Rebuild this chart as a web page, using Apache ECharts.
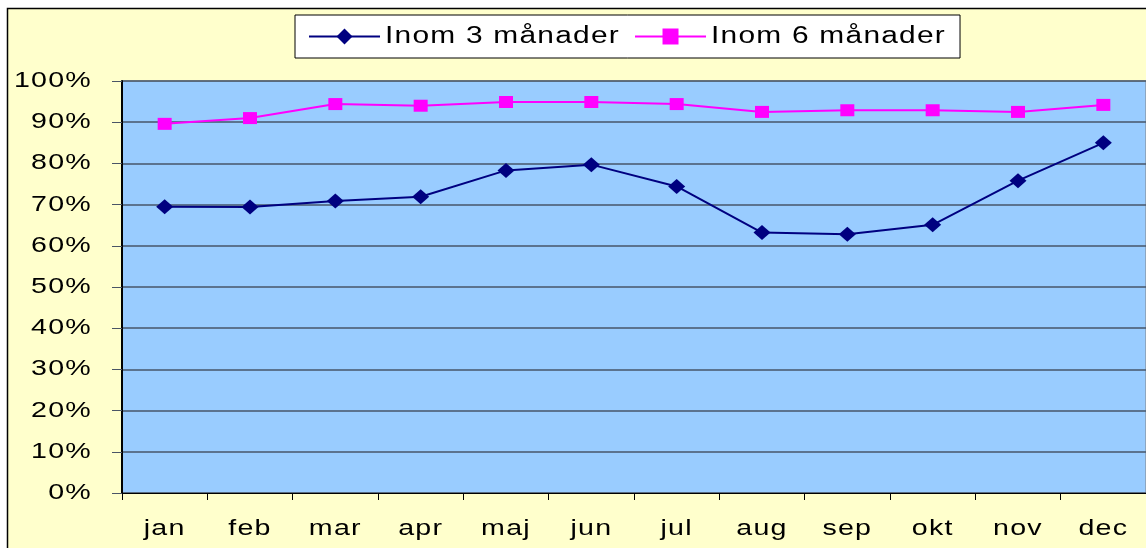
<!DOCTYPE html>
<html>
<head>
<meta charset="utf-8">
<script src="https://cdn.jsdelivr.net/npm/echarts@6/dist/echarts.min.js"></script>
<style>
html,body{margin:0;padding:0;background:#ffffff;}
#chart{width:1146px;height:548px;}
</style>
</head>
<body>
<div id="chart"></div>
<script>
const categories = ['jan','feb','mar','apr','maj','jun','jul','aug','sep','okt','nov','dec'];
const seriesNames = ['Inom 3 månader','Inom 6 månader'];
const within3 = [69.5, 69.4, 70.9, 71.9, 78.3, 79.7, 74.4, 63.2, 62.8, 65.1, 75.8, 85.0];
const within6 = [89.6, 91.0, 94.4, 94.0, 94.9, 94.9, 94.4, 92.5, 92.9, 92.9, 92.5, 94.2];
const yTicks = [0,10,20,30,40,50,60,70,80,90,100];

// The reference renders its text horizontally widened and spaced; reproduce that in the canvas text calls.
(function(){
  const S = 1.3, LS = '0.95px';
  const P = CanvasRenderingContext2D.prototype;
  const ft = P.fillText, st = P.strokeText, mt = P.measureText;
  const hasLS = ('letterSpacing' in P);
  P.fillText = function(t,x,y){ this.save(); if(hasLS) this.letterSpacing = LS; this.scale(S,1); ft.call(this,t,x/S,y); this.restore(); };
  P.strokeText = function(t,x,y){ this.save(); if(hasLS) this.letterSpacing = LS; this.scale(S,1); st.call(this,t,x/S,y); this.restore(); };
  P.measureText = function(t){
    if (t === '国') return mt.call(this,t);
    let prev;
    if (hasLS) { prev = this.letterSpacing; this.letterSpacing = LS; }
    const m = mt.call(this,t);
    if (hasLS) this.letterSpacing = prev;
    return {
      width:m.width*S,
      actualBoundingBoxLeft:m.actualBoundingBoxLeft*S,
      actualBoundingBoxRight:m.actualBoundingBoxRight*S,
      actualBoundingBoxAscent:m.actualBoundingBoxAscent,
      actualBoundingBoxDescent:m.actualBoundingBoxDescent,
      fontBoundingBoxAscent:m.fontBoundingBoxAscent,
      fontBoundingBoxDescent:m.fontBoundingBoxDescent
    };
  };
})();

const chart = echarts.init(document.getElementById('chart'), null, {renderer:'canvas'});
const font = 'Liberation Sans, Arial, sans-serif';
chart.setOption({
  animation:false,
  backgroundColor:'#ffffff',
  graphic:[{
    type:'rect', z:-10, silent:true,
    shape:{x:7.5,y:8.5,width:1200,height:600},
    style:{fill:'#FFFFCC',stroke:'#000000',lineWidth:1.5}
  }],
  grid:{left:122,top:81,width:1029,bottom:55,show:true,backgroundColor:'#99CCFF',borderColor:'#808080',borderWidth:1},
  legend:{
    left:295, top:15,
    backgroundColor:'#ffffff', borderColor:'#000000', borderWidth:1,
    padding:[10,14,10,13],
    itemWidth:71, itemHeight:20, itemGap:14,
    textStyle:{fontFamily:font,fontSize:23,color:'#000000'},
    data:seriesNames
  },
  xAxis:{
    type:'category', data:categories, boundaryGap:true,
    axisLine:{lineStyle:{color:'#000000',width:1}},
    axisTick:{show:true,length:7,inside:false,lineStyle:{color:'#000000'}},
    axisLabel:{fontFamily:font,fontSize:22,color:'#000000',margin:25}
  },
  yAxis:{
    type:'value', min:0, max:100, interval:10,
    axisLine:{show:true,lineStyle:{color:'#000000',width:2}},
    axisTick:{show:true,length:10,lineStyle:{color:'#4a5566'}},
    axisLabel:{fontFamily:font,fontSize:22,color:'#000000',margin:30,formatter:function(v){return yTicks.indexOf(v)>=0? v+'%':'';}},
    splitLine:{show:true,lineStyle:{color:'#47566a',width:1.5}}
  },
  series:[
    {name:seriesNames[0],type:'line',data:within3,symbol:'diamond',symbolSize:[17,15],
     itemStyle:{color:'#000080'},lineStyle:{color:'#000080',width:2}},
    {name:seriesNames[1],type:'line',data:within6,symbol:'rect',symbolSize:[14,12],
     itemStyle:{color:'#FF00FF'},lineStyle:{color:'#FF00FF',width:2}}
  ]
});
</script>
</body>
</html>
